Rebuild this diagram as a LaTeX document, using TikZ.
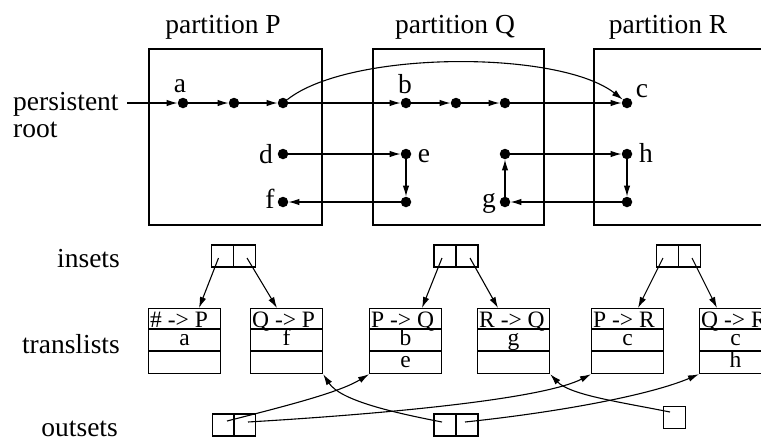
\documentclass[tikz,border=0pt]{standalone}
\usepackage{fontspec}
\setmainfont{Liberation Serif}
\usetikzlibrary{arrows.meta,calc}
\newcommand\mkTL[5]{%
  \node[tl] (#1) at (#2,308) {};
  \draw[line width=1.2pt] ([yshift=-21pt]#1.north west) -- ([yshift=-21pt]#1.north east);
  \draw[line width=1.2pt] ([yshift=-43pt]#1.north west) -- ([yshift=-43pt]#1.north east);
  \node[small, text depth=0pt, anchor=base west] (#1h) at ([xshift=2pt,yshift=-19pt]#1.north west) {#3};
  \node[small, text height=12pt, text depth=0pt, anchor=base] (#1a) at ([yshift=-37pt]#1.north) {#4};
  \node[small, text height=12pt, text depth=0pt, anchor=base] (#1b) at ([yshift=-59pt]#1.north) {#5};
}
\begin{document}
\begin{tikzpicture}[x=1pt,y=-1pt,
  lab/.style={font=\fontsize{27.5}{30}\selectfont, inner sep=0pt},
  small/.style={font=\fontsize{23.5}{25}\selectfont, inner sep=0pt},
  part/.style={draw, line width=2.4pt, inner sep=0pt, anchor=north west, minimum height=176pt},
  dot/.style={circle, fill, inner sep=0pt, minimum size=10.5pt},
  cell/.style={draw, line width=1.3pt, minimum width=22pt, minimum height=22pt, inner sep=0pt},
  tl/.style={draw, line width=1.2pt, minimum width=72pt, minimum height=65pt, inner sep=0pt, anchor=north west},
  conn/.style={line width=1.1pt, -{Latex[length=11pt,width=6.5pt]}},
  conn2/.style={line width=1.1pt, -{Latex[length=11pt,width=6.5pt]}},
  ]
\clip (0,0) rectangle (761,440);
% partitions
\node[part, minimum width=173pt] (P) at (148,48) {};
\node[part, minimum width=171pt] (Q) at (372,48) {};
\node[part, minimum width=190pt] (R) at (593,48) {};
\node[lab, anchor=base] (tP) at (223,33) {partition P};
\node[lab, anchor=base] (tQ) at (455,33) {partition Q};
\node[lab, anchor=base] (tR) at (668,33) {partition R};
% persistent root
\node[lab, anchor=base west] (pers) at (13,110) {persistent};
\node[lab, anchor=base west] (root) at (13,137) {root};
\coordinate (rs) at (127,103);
% dots
\node[dot] (a) at (183,103) {};
\node[dot] (n2) at (234,103) {};
\node[dot] (n3) at (283,103) {};
\node[dot] (b) at (406,103) {};
\node[dot] (n5) at (456,103) {};
\node[dot] (n6) at (505,103) {};
\node[dot] (c) at (627,103) {};
\node[dot] (d) at (283,154) {};
\node[dot] (e) at (406,154) {};
\node[dot] (qr) at (505,154) {};
\node[dot] (h) at (627,154) {};
\node[dot] (f) at (283,202) {};
\node[dot] (eb) at (406,202) {};
\node[dot] (g) at (505,202) {};
\node[dot] (rb) at (627,202) {};
% dot labels
\node[lab, anchor=base] (la) at (180,92) {a};
\node[lab, anchor=base] (lb) at (405,93) {b};
\node[lab, anchor=base] (lc) at (642,97) {c};
\node[lab, anchor=base] (ld) at (266,163) {d};
\node[lab, anchor=base] (le) at (424,162) {e};
\node[lab, anchor=base] (lh) at (646,162) {h};
\node[lab, anchor=base] (lf) at (270,208) {f};
\node[lab, anchor=base] (lg) at (489,207) {g};
% top connectors
\draw[conn] (rs) -- (a);
\draw[conn] (a) -- (n2);
\draw[conn] (n2) -- (n3);
\draw[conn] (n3) -- (b);
\draw[conn] (b) -- (n5);
\draw[conn] (n5) -- (n6);
\draw[conn] (n6) -- (c);
\draw[conn] (n3) .. controls (350,50) and (560,50) .. (c);
\draw[conn] (d) -- (e);
\draw[conn] (e) -- (eb);
\draw[conn] (eb) -- (f);
\draw[conn] (qr) -- (h);
\draw[conn] (h) -- (rb);
\draw[conn] (rb) -- (g);
\draw[conn] (g) -- (qr);
% row labels
\node[lab, anchor=base east] (lins) at (120,267) {insets};
\node[lab, anchor=base east] (ltl) at (120,353) {translists};
\node[lab, anchor=base east] (lout) at (118,436) {outsets};
% insets
\node[cell] (iPl) at (222.5,256) {};
\node[cell] (iPr) at (244.5,256) {};
\node[cell] (iQl) at (445,256) {};
\node[cell] (iQr) at (467,256) {};
\node[cell] (iRl) at (667.5,256) {};
\node[cell] (iRr) at (689.5,256) {};
% translists
\mkTL{tPa}{148}{\#{} -> P}{a}{}
\mkTL{tPb}{250}{Q -> P}{f}{}
\mkTL{tQa}{369}{P -> Q}{b}{e}
\mkTL{tQb}{477}{R -> Q}{g}{}
\mkTL{tRa}{591}{P -> R}{c}{}
\mkTL{tRb}{699}{Q -> R}{c}{h}
% inset arrows
\draw[conn2] ([xshift=-4pt,yshift=-2pt]iPl.center) -- ([xshift=51pt]tPa.north west);
\draw[conn2] ([xshift=2.5pt,yshift=-2pt]iPr.center) -- ([xshift=27pt]tPb.north west);
\draw[conn2] ([xshift=-3pt,yshift=-2pt]iQl.center) -- ([xshift=53pt]tQa.north west);
\draw[conn2] ([xshift=3pt,yshift=-2pt]iQr.center) -- ([xshift=21pt]tQb.north west);
\draw[conn2] ([xshift=-4.5pt,yshift=-2pt]iRl.center) -- ([xshift=47pt]tRa.north west);
\draw[conn2] ([xshift=2.5pt,yshift=-2pt]iRr.center) -- ([xshift=18pt]tRb.north west);
% outsets
\node[cell] (oPl) at (223.5,425) {};
\node[cell] (oPr) at (244.5,425) {};
\node[cell] (oQl) at (445,425) {};
\node[cell] (oQr) at (467,425) {};
\node[cell] (oR) at (674.5,417.5) {};
% outset connectors
\draw[conn2] ([xshift=3.5pt,yshift=4pt]oPl.center) .. controls (290,405) and (340,392) .. (tQa.south west);
\draw[conn2] ([xshift=3.5pt,yshift=3pt]oPr.center) .. controls (400,413) and (545,398) .. (tRa.south west);
\draw[conn2] ([xshift=-3pt,yshift=3pt]oQl.center) .. controls (390,412) and (340,400) .. (tPb.south east);
\draw[conn2] ([xshift=-2pt,yshift=3pt]oQr.center) .. controls (560,412) and (650,395) .. (tRb.south west);
\draw[conn2] ([xshift=-4.5pt,yshift=5.5pt]oR.center) .. controls (620,402) and (570,395) .. (tQb.south east);
\end{tikzpicture}
\end{document}
